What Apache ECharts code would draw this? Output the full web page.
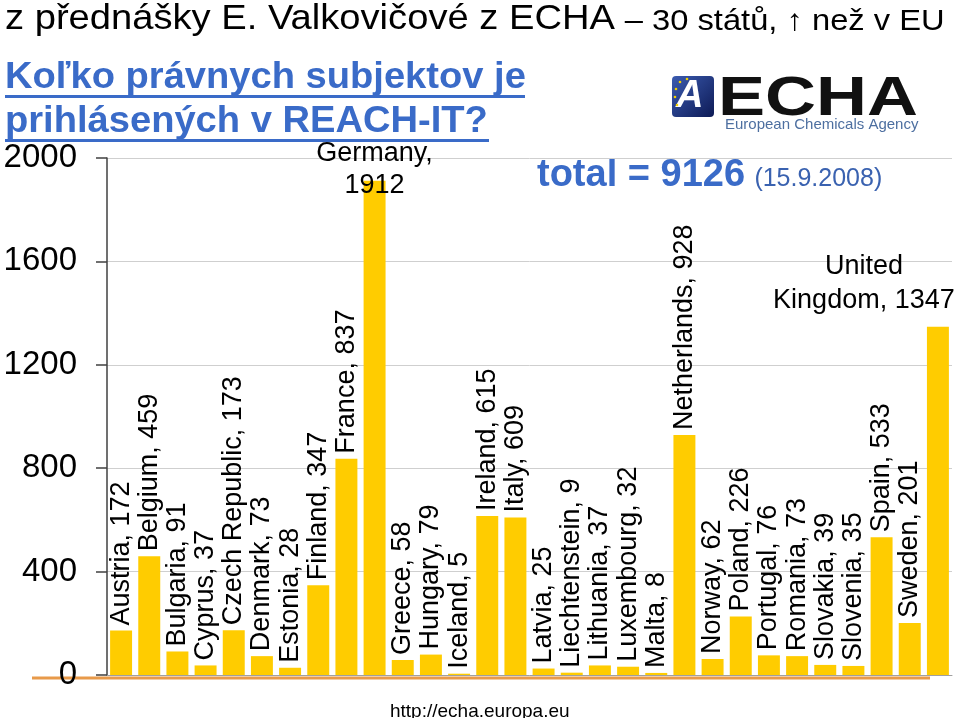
<!DOCTYPE html>
<html>
<head>
<meta charset="utf-8">
<script src="https://cdn.jsdelivr.net/npm/echarts@6/dist/echarts.min.js"></script>
<style>
html,body{margin:0;padding:0;background:#fff;}
#chart{width:960px;height:718px;}
</style>
</head>
<body>
<div id="chart"></div>
<script>
const countries = ['Austria','Belgium','Bulgaria','Cyprus','Czech Republic','Denmark','Estonia','Finland','France','Germany','Greece','Hungary','Iceland','Ireland','Italy','Latvia','Liechtenstein','Lithuania','Luxembourg','Malta','Netherlands','Norway','Poland','Portugal','Romania','Slovakia','Slovenia','Spain','Sweden','United Kingdom'];
const registrants = [172,459,91,37,173,73,28,347,837,1912,58,79,5,615,609,25,9,37,32,8,928,62,226,76,73,39,35,533,201,1347];
const yTicks = [0,400,800,1200,1600,2000];
const headline = 'z přednášky E. Valkovičové z ECHA';
const headlineTail = '– 30 států, ↑ než v EU';
const questionLines = ['Koľko právnych subjektov je','prihlásených v REACH-IT?'];
const totalText = 'total = 9126';
const dateText = '(15.9.2008)';
const urlText = 'http://echa.europa.eu';

const FONT = "'Liberation Sans', Arial, sans-serif";
const BLUE = '#3A6BC8';

const chart = echarts.init(document.getElementById('chart'), null, {renderer:'canvas'});

const data = countries.map((name, i) => {
  const item = {name: name, value: registrants[i]};
  if (name === 'Germany') {
    item.label = {rotate: 0, align: 'center', verticalAlign: 'bottom', lineHeight: 32, offset: [0, 26],
      formatter: p => p.name + ',\n' + p.value};
  } else if (name === 'United Kingdom') {
    item.label = {rotate: 0, align: 'center', verticalAlign: 'bottom', lineHeight: 34, offset: [-74, -4],
      formatter: p => p.name.replace(' ', '\n') + ', ' + p.value};
  }
  return item;
});

const option = {
  backgroundColor: '#fff',
  animation: false,
  grid: {left: 107, right: 8, top: 158, bottom: 43, containLabel: false, outerBoundsMode: 'none'},
  xAxis: {
    type: 'category',
    data: countries,
    axisLine: {show: true, lineStyle: {color: '#a0a0a0', width: 1}},
    axisTick: {show: false},
    axisLabel: {show: false}
  },
  yAxis: {
    type: 'value',
    min: yTicks[0], max: yTicks[yTicks.length-1], interval: 400,
    axisLine: {show: true, lineStyle: {color: '#404040', width: 1.5}},
    axisTick: {show: true, length: 11, lineStyle: {color: '#404040', width: 1.5}},
    axisLabel: {fontSize: 33, color: '#000', fontFamily: FONT, margin: 30, formatter: v => String(v)},
    splitLine: {show: true, lineStyle: {color: '#cfcfcf', width: 1}}
  },
  series: [{
    type: 'bar',
    data: data,
    barCategoryGap: '22%',
    itemStyle: {color: '#FFCC00'},
    label: {
      show: true, position: 'top', rotate: 90, align: 'left', verticalAlign: 'middle',
      distance: 5, fontSize: 27, color: '#000', fontFamily: FONT,
      formatter: '{b}, {c}'
    }
  }],
  graphic: [
    {type: 'text', x: 5, y: 2, scaleX: 1.09, style: {
      text: '{a|' + headline + '}{b|' + headlineTail + '}',
      rich: {a: {fontSize: 35, fontFamily: FONT, fill: '#000'}, b: {fontSize: 30, fontFamily: FONT, fill: '#000', padding: [4,0,0,9]}},
      fill: '#000'
    }},
    {type: 'text', x: 5, y: 59, scaleX: 1.03, style: {text: questionLines[0], font: 'bold 37px ' + FONT, fill: BLUE}},
    {type: 'rect', shape: {x: 5, y: 95, width: 520, height: 3}, style: {fill: BLUE}},
    {type: 'text', x: 5, y: 103, scaleX: 1.03, style: {text: questionLines[1], font: 'bold 37px ' + FONT, fill: BLUE}},
    {type: 'rect', shape: {x: 5, y: 139, width: 484, height: 3}, style: {fill: BLUE}},
    {type: 'text', x: 537, y: 157, style: {
      text: '{t|' + totalText + '} {d|' + dateText + '}',
      rich: {t: {fontSize: 38, fontWeight: 'bold', fontFamily: FONT, fill: BLUE}, d: {fontSize: 25, fontFamily: FONT, fill: '#3A62B0', padding: [7,0,0,6]}}
    }},
    // ECHA logo
    {type: 'rect', shape: {x: 672, y: 76, width: 42, height: 41, r: 4}, style: {
      fill: {type: 'linear', x: 0, y: 0, x2: 1, y2: 1, colorStops: [{offset: 0, color: '#3b5bb0'}, {offset: 1, color: '#0d1a55'}]}
    }},
    {type: 'text', x: 676, y: 78, style: {text: 'A', font: 'italic bold 38px ' + FONT, fill: '#fff'}},
    {type: 'circle', shape: {cx: 680, cy: 82, r: 1.3}, style: {fill: '#f2d000'}},
    {type: 'circle', shape: {cx: 687, cy: 79, r: 1.3}, style: {fill: '#f2d000'}},
    {type: 'circle', shape: {cx: 676, cy: 89, r: 1.3}, style: {fill: '#f2d000'}},
    {type: 'circle', shape: {cx: 675, cy: 97, r: 1.3}, style: {fill: '#f2d000'}},
    {type: 'circle', shape: {cx: 677, cy: 105, r: 1.3}, style: {fill: '#f2d000'}},
    {type: 'text', x: 718, y: 72, scaleX: 1.26, style: {text: 'ECHA', font: 'bold 56px ' + FONT, fill: '#111'}},
    {type: 'text', x: 725, y: 117, style: {text: 'European Chemicals Agency', font: '15px ' + FONT, fill: '#4d6fa0'}},
    // orange baseline decoration
    {type: 'line', shape: {x1: 32, y1: 678, x2: 930, y2: 678}, style: {stroke: '#E89A4A', lineWidth: 3}},
    {type: 'text', x: 390, y: 702, style: {text: urlText, font: '19px ' + FONT, fill: '#000'}}
  ]
};
chart.setOption(option);
</script>
</body>
</html>
